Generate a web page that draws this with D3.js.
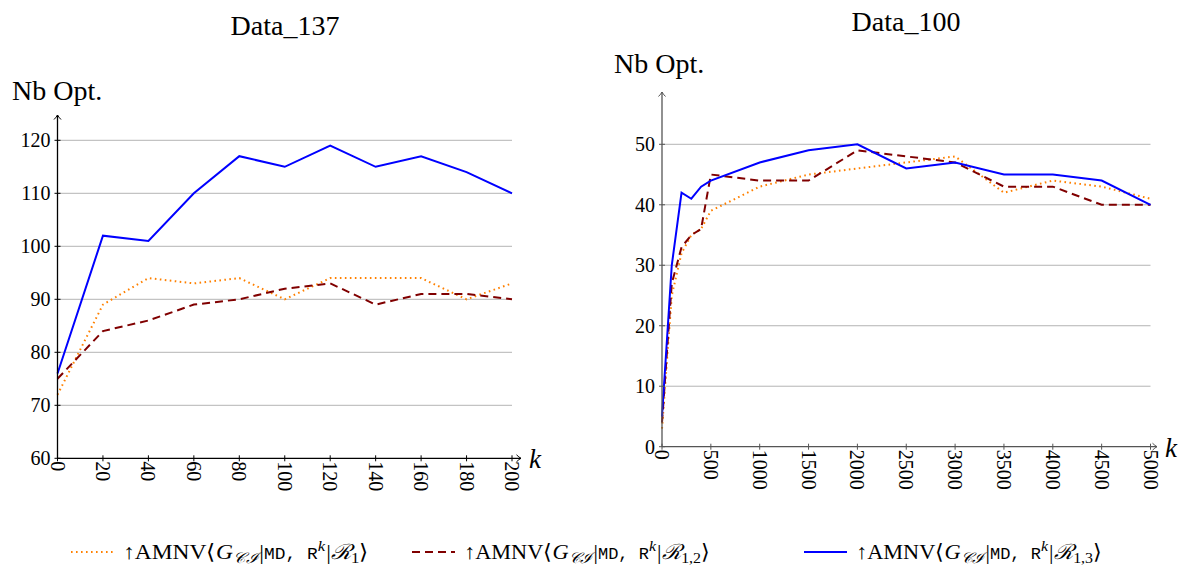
<!DOCTYPE html>
<html>
<head>
<meta charset="utf-8">
<script src="https://cdn.jsdelivr.net/npm/d3@7/dist/d3.min.js"></script>
<style>
  html, body { margin: 0; padding: 0; background: #fff; }
</style>
</head>
<body>
<svg id="chart" width="1180" height="570"></svg>
<script>
// ---- Data_137 ----
const kLeft = [0, 20, 40, 60, 80, 100, 120, 140, 160, 180, 200];
const leftR1   = [72, 89, 94, 93, 94, 90, 94, 94, 94, 90, 93];
const leftR12  = [75, 84, 86, 89, 90, 92, 93, 89, 91, 91, 90];
const leftR13  = [76, 102, 101, 110, 117, 115, 119, 115, 117, 114, 110];
const leftXTicks = [0, 20, 40, 60, 80, 100, 120, 140, 160, 180, 200];
const leftYTicks = [60, 70, 80, 90, 100, 110, 120];

// ---- Data_100 ----
const kRight = [0, 100, 200, 300, 400, 500, 1000, 1500, 2000, 2500, 3000, 3500, 4000, 4500, 5000];
const rightR1  = [3, 25, 32, 35, 36, 39, 43, 45, 46, 47, 48, 42, 44, 43, 41];
const rightR12 = [4, 27, 33, 35, 36, 45, 44, 44, 49, 48, 47, 43, 43, 40, 40];
const rightR13 = [5, 30, 42, 41, 43, 44, 47, 49, 50, 46, 47, 45, 45, 44, 40];
const rightXTicks = [0, 500, 1000, 1500, 2000, 2500, 3000, 3500, 4000, 4500, 5000];
const rightYTicks = [0, 10, 20, 30, 40, 50];

const seriesSubs = ["1", "1,2", "1,3"];

const seriesStyles = [
  { color: "#ff8000", dash: "1.6,3.4", width: 2 },
  { color: "#800000", dash: "8,5", width: 2 },
  { color: "#0000ff", dash: null,  width: 2 }
];

const SERIF = "Liberation Serif";
const MONO = "Liberation Mono";

const svg = d3.select("#chart");

function drawPanel(cfg) {
  const g = svg.append("g");
  const x = d3.scaleLinear().domain(cfg.xDomain).range(cfg.xRange);
  const y = d3.scaleLinear().domain(cfg.yDomain).range(cfg.yRange);
  const x0 = x(cfg.xDomain[0]), x1 = x(cfg.xDomain[1]);
  const y0 = y(cfg.yDomain[0]);

  // horizontal grid
  g.selectAll(".grid").data(cfg.yTicks.slice(1)).join("line")
    .attr("x1", x0).attr("x2", x1)
    .attr("y1", d => y(d)).attr("y2", d => y(d))
    .attr("stroke", "#b4b4b4").attr("stroke-width", 1);

  // series
  const line = d3.line().x(d => x(d[0])).y(d => y(d[1]));
  cfg.series.forEach((vals, i) => {
    const st = seriesStyles[i];
    g.append("path")
      .datum(cfg.k.map((k, j) => [k, vals[j]]))
      .attr("d", line)
      .attr("fill", "none")
      .attr("stroke", st.color)
      .attr("stroke-width", st.width)
      .attr("stroke-dasharray", st.dash)
      .attr("stroke-linejoin", "miter");
  });

  // axis lines with arrow heads
  const axisColor = cfg.axisColor;
  const yTop = cfg.yAxisTop, xEnd = cfg.xAxisEnd;
  g.append("line").attr("x1", x0).attr("x2", x0).attr("y1", y0).attr("y2", yTop)
    .attr("stroke", axisColor).attr("stroke-width", 1.3);
  g.append("line").attr("x1", x0).attr("x2", xEnd).attr("y1", y0).attr("y2", y0)
    .attr("stroke", axisColor).attr("stroke-width", 1.3);
  g.append("path")
    .attr("d", `M${x0 - 3.5},${yTop + 4.5} Q${x0 - 1},${yTop + 2} ${x0},${yTop} Q${x0 + 1},${yTop + 2} ${x0 + 3.5},${yTop + 4.5}`)
    .attr("fill", "none").attr("stroke", axisColor).attr("stroke-width", 1);
  g.append("path")
    .attr("d", `M${xEnd - 4.5},${y0 - 3.5} Q${xEnd - 2},${y0 - 1} ${xEnd},${y0} Q${xEnd - 2},${y0 + 1} ${xEnd - 4.5},${y0 + 3.5}`)
    .attr("fill", "none").attr("stroke", axisColor).attr("stroke-width", 1);

  // ticks
  g.selectAll(".xt").data(cfg.xTicks).join("line")
    .attr("x1", d => x(d)).attr("x2", d => x(d))
    .attr("y1", y0 - 3).attr("y2", y0 + 3)
    .attr("stroke", axisColor).attr("stroke-width", 1);
  g.selectAll(".yt").data(cfg.yTicks).join("line")
    .attr("x1", x0 - 3).attr("x2", x0 + 3)
    .attr("y1", d => y(d)).attr("y2", d => y(d))
    .attr("stroke", axisColor).attr("stroke-width", 1);

  // y tick labels
  g.selectAll(".yl").data(cfg.yTicks).join("text")
    .attr("x", x0 - 7).attr("y", d => y(d))
    .attr("dy", "0.35em").attr("text-anchor", "end")
    .attr("font-family", SERIF).attr("font-size", 20)
    .text(d => d);

  // x tick labels, rotated to read downwards
  g.selectAll(".xl").data(cfg.xTicks).join("text")
    .attr("transform", d => `translate(${x(d)},${y0 + 3}) rotate(90)`)
    .attr("dy", "0.35em").attr("text-anchor", "start")
    .attr("font-family", SERIF).attr("font-size", 20)
    .text(d => d);

  // axis labels
  g.append("text").attr("x", xEnd + 8).attr("y", y0 + 10)
    .attr("font-family", SERIF).attr("font-size", 27).attr("font-style", "italic").text("k");
  g.append("text").attr("x", cfg.yLabelX).attr("y", cfg.yLabelY)
    .attr("font-family", SERIF).attr("font-size", 28).text("Nb Opt.");

  // title
  g.append("text").attr("x", cfg.titleX).attr("y", cfg.titleY)
    .attr("text-anchor", "middle")
    .attr("font-family", SERIF).attr("font-size", 28).text(cfg.title);
}

drawPanel({
  title: "Data_137", titleX: 285, titleY: 35,
  k: kLeft, series: [leftR1, leftR12, leftR13],
  xDomain: [0, 200], xRange: [57.5, 512],
  yDomain: [60, 120], yRange: [458.3, 140.3],
  xTicks: leftXTicks, yTicks: leftYTicks,
  yAxisTop: 115, xAxisEnd: 521, yLabelX: 12, yLabelY: 100,
  axisColor: "#000"
});

drawPanel({
  title: "Data_100", titleX: 906, titleY: 31,
  k: kRight, series: [rightR1, rightR12, rightR13],
  xDomain: [0, 5000], xRange: [662, 1150.5],
  yDomain: [0, 50], yRange: [446.7, 144.3],
  xTicks: rightXTicks, yTicks: rightYTicks,
  yAxisTop: 92, xAxisEnd: 1157, yLabelX: 614, yLabelY: 73,
  axisColor: "#555"
});

// ---- legend ----
const legendX = [71, 412, 804];
const legendTextWidth = 242;
const legY = 552;
const leg = svg.append("g");
seriesSubs.forEach((sub, i) => {
  const st = seriesStyles[i];
  const lx = legendX[i];
  leg.append("line")
    .attr("x1", lx).attr("x2", lx + 43)
    .attr("y1", legY).attr("y2", legY)
    .attr("stroke", st.color).attr("stroke-width", st.width)
    .attr("stroke-dasharray", st.dash);
  const tx = lx + 52;
  const t = leg.append("text").attr("x", tx).attr("y", legY + 7)
    .attr("font-family", SERIF).attr("font-size", 21);
  t.append("tspan").text("↑AMNV⟨");
  t.append("tspan").attr("font-style", "italic").text("G");
  t.append("tspan").attr("dy", 4).attr("font-size", 15).attr("font-style", "italic").text("𝒞ℐ");
  t.append("tspan").attr("dy", -4).attr("dx", 2).text("|");
  t.append("tspan").attr("font-family", MONO).attr("font-size", 16).text("MD, R");
  t.append("tspan").attr("dy", -8).attr("font-size", 15).attr("font-style", "italic").text("k");
  t.append("tspan").attr("dy", 8).attr("dx", 1).text("|");
  t.append("tspan").attr("font-style", "italic").text("ℛ");
  t.append("tspan").attr("dy", 4).attr("font-size", 15).text(sub);
  t.append("tspan").attr("dy", -4).text("⟩");
  // stretch horizontally to the wider math typeface proportions
  const w = t.node().getComputedTextLength();
  const sx = legendTextWidth / w;
  t.attr("transform", `translate(${tx},0) scale(${sx},1) translate(${-tx},0)`);
});
</script>
</body>
</html>
